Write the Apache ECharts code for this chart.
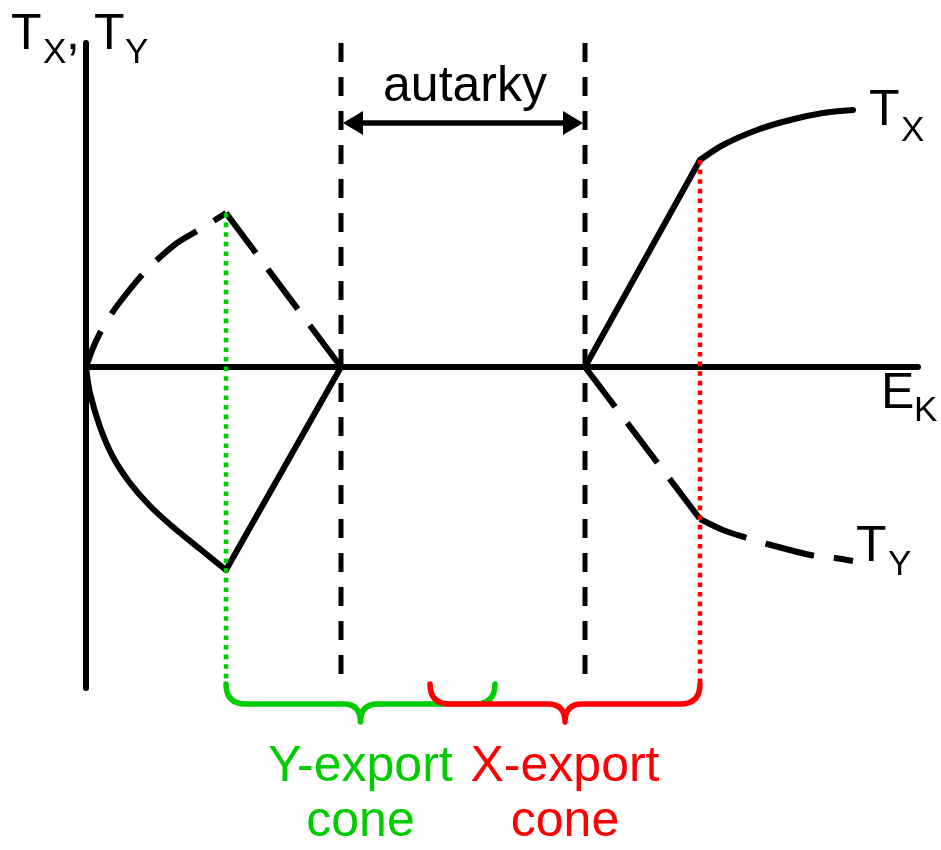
<!DOCTYPE html>
<html><head><meta charset="utf-8">
<script src="https://cdn.jsdelivr.net/npm/echarts@6/dist/echarts.min.js"></script>
<style>html,body{margin:0;padding:0;background:#fff}#c{width:941px;height:850px}</style>
</head><body><div id="c"></div>
<script>
// ---- data (x: E_K, y: T_X / T_Y) ----
const xRange = [0, 8.32];
const yRange = [-3.21, 3.24];
const txLeftCurve = [[0,0],[0.04,-0.26],[0.14,-0.60],[0.27,-0.90],[0.44,-1.16],[0.64,-1.39],[0.87,-1.60],[1.14,-1.82],[1.40,-2.03]];
const txLeftLine = [[1.40,-2.03],[2.55,0]];
const tyLeftCurve = [[0,0],[0.07,0.19],[0.14,0.34],[0.26,0.54],[0.41,0.74],[0.56,0.92],[0.71,1.07],[0.91,1.24],[1.11,1.36],[1.29,1.47],[1.40,1.54]];
const tyLeftLine = [[1.40,1.54],[2.55,0]];
const txRightLine = [[4.99,0],[6.14,2.07]];
const txRightCurve = [[6.14,2.07],[6.37,2.22],[6.71,2.37],[7.04,2.47],[7.37,2.54],[7.67,2.57]];
const tyRightLine = [[4.99,0],[6.14,-1.52]];
const tyRightCurve = [[6.14,-1.52],[6.37,-1.63],[6.61,-1.71],[6.81,-1.77],[7.29,-1.89],[7.49,-1.91],[7.67,-1.94]];
const autarkyLeft = [[2.55,3.24],[2.55,-3.21]];
const autarkyRight = [[4.99,3.24],[4.99,-3.21]];
const greenDrop = [[1.40,1.54],[1.40,-3.15]];
const redDrop = [[6.14,2.07],[6.14,-3.15]];
const arrowData = [[2.55, 4.99, 2.44]];
const arrowText = ['autarky'];
const braceData = [[1.40, 4.09, -3.17], [3.44, 6.14, -3.17]];
const braceText = ['Y-export\ncone', 'X-export\ncone'];
const braceColor = ['#00cc00', '#ff0000'];

const FONT = '"Liberation Sans", Arial, Helvetica, sans-serif';
const chart = echarts.init(document.getElementById('c'));

function solid(data, smooth) {
  return {type:'line', data, symbol:'none', smooth: smooth ? 0.3 : false, silent:true, z:3,
    lineStyle:{color:'#000', width:6, cap:'round', join:'round'}};
}
function dashed(data, smooth, offset) {
  return {type:'line', data, symbol:'none', smooth: smooth ? 0.3 : false, silent:true, z:3,
    lineStyle:{color:'#000', width:6, type:[50,20], dashOffset: offset || 0, cap:'butt'}};
}
function vdash(data) {
  return {type:'line', data, symbol:'none', silent:true, z:2,
    lineStyle:{color:'#000', width:5, type:[19,15], cap:'butt'}};
}
function dotted(data, color) {
  return {type:'line', data, symbol:'none', silent:true, z:5,
    lineStyle:{color, width:4.6, type:[4.6,5], cap:'butt'}};
}

function renderArrow(params, api) {
  const a = api.coord([api.value(0), api.value(2)]);
  const b = api.coord([api.value(1), api.value(2)]);
  const y = a[1], hl = 20, hw = 12;
  const xl = a[0] + 2, xr = b[0] - 2;
  return {type:'group', children:[
    {type:'line', shape:{x1:xl+hl-2, y1:y, x2:xr-hl+2, y2:y}, style:{stroke:'#000', lineWidth:5.5}},
    {type:'polygon', shape:{points:[[xl,y],[xl+hl,y-hw],[xl+hl,y+hw]]}, style:{fill:'#000'}},
    {type:'polygon', shape:{points:[[xr,y],[xr-hl,y-hw],[xr-hl,y+hw]]}, style:{fill:'#000'}},
    {type:'text', x:(xl+xr)/2 + 2, y: y - 18 - 17.3, style:{text: arrowText[params.dataIndex], fill:'#000',
      font:'50px ' + FONT, align:'center', verticalAlign:'middle'}}
  ]};
}

function renderBrace(params, api) {
  const a = api.coord([api.value(0), api.value(2)]);
  const b = api.coord([api.value(1), api.value(2)]);
  const color = braceColor[params.dataIndex];
  const r = 20, tip = 18, rt = 17;
  const y0 = a[1], yh = y0 + r, ym = yh + tip, xm = (a[0] + b[0]) / 2;
  const d = 'M' + a[0] + ',' + y0 + ' Q' + a[0] + ',' + yh + ' ' + (a[0]+r) + ',' + yh +
    ' L' + (xm-rt) + ',' + yh + ' Q' + xm + ',' + yh + ' ' + xm + ',' + ym +
    ' Q' + xm + ',' + yh + ' ' + (xm+rt) + ',' + yh +
    ' L' + (b[0]-r) + ',' + yh + ' Q' + b[0] + ',' + yh + ' ' + b[0] + ',' + y0;
  return {type:'group', children:[
    {type:'path', shape:{pathData:d}, style:{stroke:color, fill:'none', lineWidth:5.5, lineCap:'round', lineJoin:'round'}},
    {type:'text', x:xm, y: ym + 18, style:{text: braceText[params.dataIndex], fill:color,
      font:'50px ' + FONT, align:'center', verticalAlign:'top', lineHeight:55}}
  ]};
}

function txt(text, x, base, size, align) {
  return {type:'text', x, y: base - 0.346 * size, silent:true,
    style:{text, fill:'#000', font: size + 'px ' + FONT, align: align || 'left', verticalAlign:'middle'}};
}

const option = {
  animation:false,
  backgroundColor:'#fff',
  grid:{left:86, right:23, top:43, bottom:162, containLabel:false},
  xAxis:{type:'value', min:xRange[0], max:xRange[1],
    axisLine:{show:true, onZero:true, lineStyle:{color:'#000', width:6, cap:'round'}},
    axisTick:{show:false}, axisLabel:{show:false}, splitLine:{show:false}},
  yAxis:{type:'value', min:yRange[0], max:yRange[1],
    axisLine:{show:true, onZero:false, lineStyle:{color:'#000', width:6}},
    axisTick:{show:false}, axisLabel:{show:false}, splitLine:{show:false}},
  series:[
    vdash(autarkyLeft), vdash(autarkyRight),
    solid(txLeftCurve, true), solid(txLeftLine, false),
    dashed(tyLeftCurve, true, 11), dashed(tyLeftLine, false, 0),
    solid(txRightLine, false), solid(txRightCurve, true),
    dashed(tyRightLine, false, 0), dashed(tyRightCurve, true, 0),
    dotted(greenDrop, '#00cc00'), dotted(redDrop, '#ff0000'),
    {type:'custom', coordinateSystem:'cartesian2d', data:arrowData, encode:{x:[0,1], y:2},
      renderItem:renderArrow, clip:false, silent:true, z:4},
    {type:'custom', coordinateSystem:'cartesian2d', data:braceData, encode:{x:[0,1], y:2},
      renderItem:renderBrace, clip:false, silent:true, z:4}
  ],
  graphic:[
    txt('T', 11, 53, 50), txt('X', 43, 65, 35), txt(',', 66, 53, 50), txt('T', 94, 53, 50), txt('Y', 125, 65, 35),
    txt('T', 869, 129, 50), txt('X', 901, 143, 35),
    txt('E', 881, 412, 50), txt('K', 914, 423, 35),
    txt('T', 856, 565, 50), txt('Y', 888, 577, 35)
  ]
};
chart.setOption(option);
</script></body></html>
